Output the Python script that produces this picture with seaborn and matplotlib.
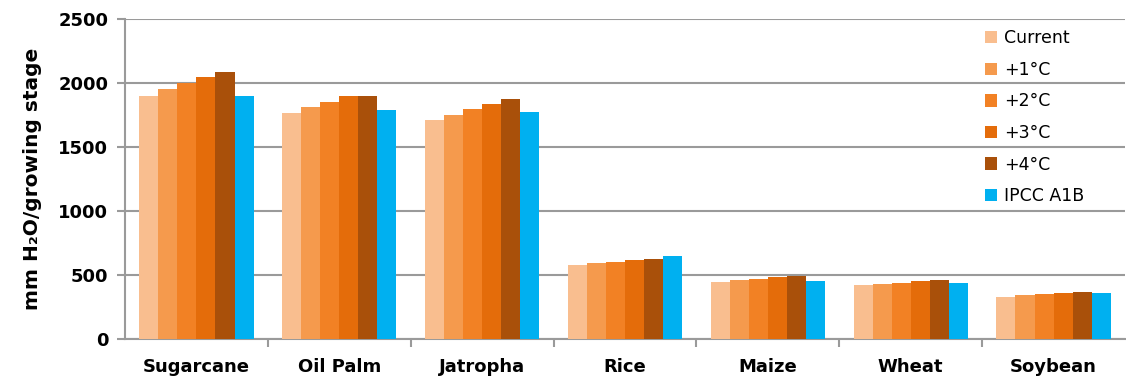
import matplotlib
matplotlib.use("Agg")
import matplotlib.pyplot as plt
import seaborn as sns
import pandas as pd
from matplotlib.ticker import FixedLocator, MultipleLocator

crops = ["Sugarcane", "Oil Palm", "Jatropha", "Rice", "Maize", "Wheat", "Soybean"]
scenarios = ["Current", "+1°C", "+2°C", "+3°C", "+4°C", "IPCC A1B"]

current = [1900, 1762, 1710, 576, 445, 419, 331]
plus1 = [1950, 1810, 1750, 590, 458, 430, 341]
plus2 = [1998, 1852, 1794, 603, 469, 440, 349]
plus3 = [2045, 1896, 1833, 615, 482, 451, 359]
plus4 = [2085, 1900, 1872, 628, 495, 461, 367]
ipcc = [1900, 1787, 1773, 650, 456, 437, 362]

colors = ["#F9BE8F", "#F59A4D", "#F28124", "#E46C0A", "#A9500A", "#00B0F0"]

series = [current, plus1, plus2, plus3, plus4, ipcc]
rows = []
for name, vals in zip(scenarios, series):
    for crop, v in zip(crops, vals):
        rows.append({"crop": crop, "scenario": name, "value": v})
df = pd.DataFrame(rows)

sns.set_style("white")
plt.rcParams["font.family"] = ["DejaVu Sans"]
plt.rcParams["text.color"] = "black"
plt.rcParams["axes.labelcolor"] = "black"
plt.rcParams["xtick.color"] = "black"
plt.rcParams["ytick.color"] = "black"

fig = plt.figure(figsize=(11.26, 3.80), dpi=100)
ax = fig.add_axes([125 / 1126, 41 / 380, 1000 / 1126, 320 / 380])

sns.barplot(data=df, x="crop", y="value", hue="scenario", order=crops,
            hue_order=scenarios, palette=colors, saturation=1, width=0.8,
            errorbar=None, ax=ax, zorder=3, linewidth=0)

grid_c = "#9A9A9A"
ax.set_ylim(0, 2500)
ax.set_xlim(-0.5, len(crops) - 0.5)
ax.yaxis.set_major_locator(MultipleLocator(500))
ax.grid(axis="y", color=grid_c, linewidth=1.5, zorder=0)
ax.set_axisbelow(True)

for s in ["top", "right"]:
    ax.spines[s].set_visible(False)
for s in ["left", "bottom"]:
    ax.spines[s].set_color(grid_c)
    ax.spines[s].set_linewidth(1.5)

ax.tick_params(axis="y", which="major", left=True, length=6, width=1.5,
               color=grid_c, labelcolor="black", labelsize=13, pad=6)
ax.tick_params(axis="x", which="major", bottom=False, labelcolor="black",
               labelsize=13, pad=10)
ax.xaxis.set_minor_locator(FixedLocator([i + 0.5 for i in range(len(crops) - 1)]))
ax.tick_params(axis="x", which="minor", bottom=True, length=6, width=1.5,
               color=grid_c, direction="out")
for lab in ax.get_xticklabels() + ax.get_yticklabels():
    lab.set_fontweight("bold")

ax.set_xlabel("")
ax.set_ylabel("mm H₂O/growing stage", fontsize=14.5, fontweight="bold",
              color="black", labelpad=12)

leg = ax.legend(loc="upper right", bbox_to_anchor=(0.97, 1.0), frameon=False,
                fontsize=12.5, handlelength=0.7, handleheight=0.7,
                labelspacing=0.78, handletextpad=0.4, borderaxespad=0.2)
for t in leg.get_texts():
    t.set_color("black")
leg.set_zorder(5)

fig.savefig("out.png", dpi=100, facecolor="white")
